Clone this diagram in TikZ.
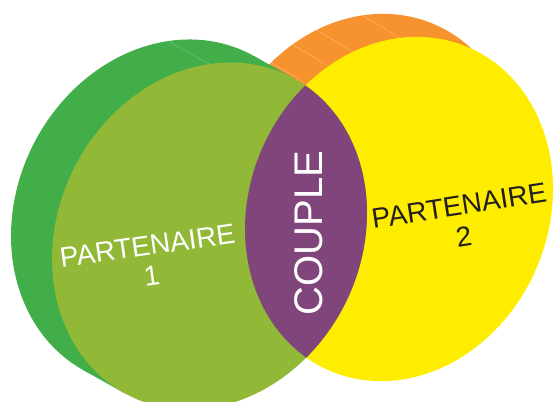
\documentclass[tikz,border=0pt]{standalone}
\usepackage{fontspec}
\setmainfont{Liberation Sans}
\usetikzlibrary{calc}
\definecolor{gdark}{RGB}{65,174,74}
\definecolor{glight}{RGB}{146,184,55}
\definecolor{yface}{RGB}{255,237,0}
\definecolor{oside}{RGB}{247,147,46}
\definecolor{lens}{RGB}{128,69,122}
\definecolor{ink}{RGB}{35,31,32}
% ellipse: centre (#1,#2), conjugate half-diameters (#3,#4) and (0,#5)
\newcommand\ellpath[5]{plot[variable=\t,domain=0:360,samples=160,smooth] ({#1+(#3)*cos(\t)},{#2+(#4)*cos(\t)+(#5)*sin(\t)}) -- cycle}
\tikzset{
  seam/.style={white,opacity=0.55,line width=0.5pt,dash pattern=on 1pt off 1pt},
  label/.style={inner sep=0pt,align=center,font=\fontsize{28}{31}\selectfont},
}
\begin{document}
\begin{tikzpicture}[x=1pt,y=-1pt]
\useasboundingbox (0,0) rectangle (553,401);
% ---- orange side of partner 2 disk (offset -34,-23)
\fill[oside] \ellpath{365}{186}{154}{-20}{171};
\coordinate (oF1) at ({399+154*cos(126)},{209+20*cos(126)+171*sin(126)});
\coordinate (oF2) at ({399+154*cos(-54)},{209+20*cos(-54)+171*sin(-54)});
\fill[oside] (oF1) -- ++(-34,-23) -- ($(oF2)+(-34,-23)$) -- (oF2) -- cycle;
\draw[seam] (362,15) -- (400,38);
\draw[seam] (315,29) -- (353,52);
\draw[seam] (290,43) -- (328,66);
\draw[seam] (267,60) -- (305,83);
% ---- dark green side of partner 1 disk (offset -41,-23)
\fill[gdark] \ellpath{168.5}{213}{157.5}{-23}{172};
\coordinate (gF1) at ({209.5+157.5*cos(122.92)},{236-23*cos(122.92)+172*sin(122.92)});
\coordinate (gF2) at ({209.5+157.5*cos(-57.08)},{236-23*cos(-57.08)+172*sin(-57.08)});
\fill[gdark] (gF1) -- ++(-41,-23) -- ($(gF2)+(-41,-23)$) -- (gF2) -- cycle;
\draw[seam] (170,42) -- (209,64);
% ---- faces
\fill[yface] \ellpath{399}{209}{154}{-20}{171};
\fill[glight] \ellpath{209.5}{236}{157.5}{-23}{172};
\begin{scope}
  \clip \ellpath{209.5}{236}{157.5}{-23}{172};
  \fill[lens] \ellpath{399}{209}{154}{-20}{171};
\end{scope}
% ---- labels
\node[label,white,rotate=8] (p1) at (149.6,261) {PARTENAIRE\\1};
\node[label,ink,rotate=8.8] (p2) at (461.5,221) {PARTENAIRE\\2};
\node[inner sep=0pt,white,rotate=90,font=\fontsize{40}{40}\selectfont] (cp) at (309,233) {COUPLE};
\end{tikzpicture}
\end{document}
